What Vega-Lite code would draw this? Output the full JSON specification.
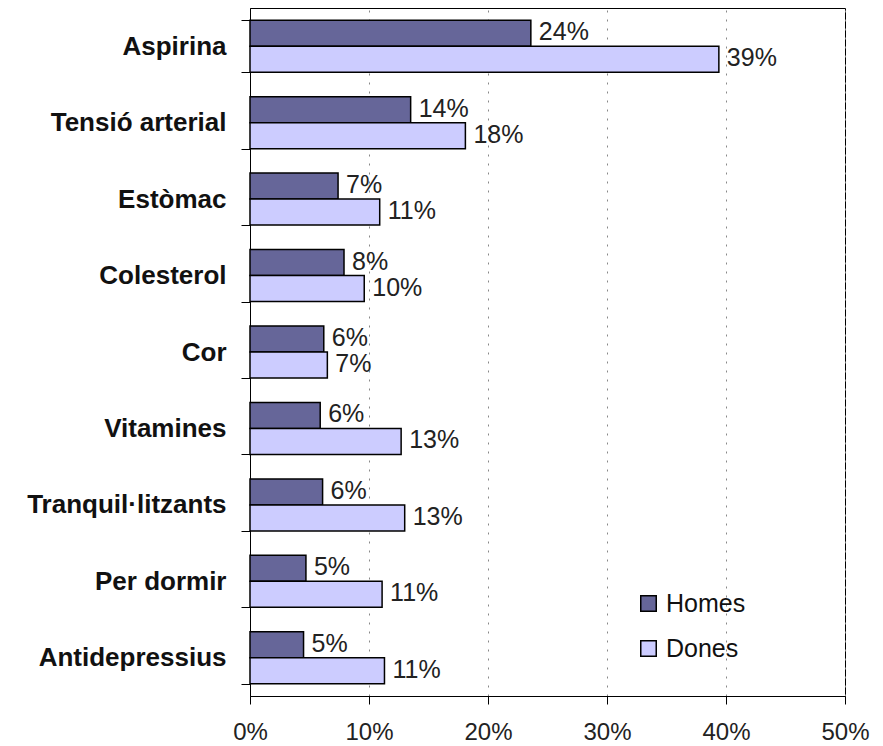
{
  "$schema": "https://vega.github.io/schema/vega-lite/v6.json",
  "autosize": {"type": "none"},
  "padding": {"left": 250, "top": 8, "right": 38, "bottom": 50},
  "width": 595,
  "height": 688,
  "background": "white",
  "config": {
    "view": {"stroke": "black", "strokeWidth": 1},
    "font": "Liberation Sans"
  },
  "data": {
    "values": [
      {"farmac": "Aspirina", "sexe": "Homes", "valor": 23.6, "etiqueta": "24%"},
      {"farmac": "Aspirina", "sexe": "Dones", "valor": 39.4, "etiqueta": "39%"},
      {"farmac": "Tensió arterial", "sexe": "Homes", "valor": 13.5, "etiqueta": "14%"},
      {"farmac": "Tensió arterial", "sexe": "Dones", "valor": 18.1, "etiqueta": "18%"},
      {"farmac": "Estòmac", "sexe": "Homes", "valor": 7.4, "etiqueta": "7%"},
      {"farmac": "Estòmac", "sexe": "Dones", "valor": 10.9, "etiqueta": "11%"},
      {"farmac": "Colesterol", "sexe": "Homes", "valor": 7.9, "etiqueta": "8%"},
      {"farmac": "Colesterol", "sexe": "Dones", "valor": 9.6, "etiqueta": "10%"},
      {"farmac": "Cor", "sexe": "Homes", "valor": 6.2, "etiqueta": "6%"},
      {"farmac": "Cor", "sexe": "Dones", "valor": 6.5, "etiqueta": "7%"},
      {"farmac": "Vitamines", "sexe": "Homes", "valor": 5.9, "etiqueta": "6%"},
      {"farmac": "Vitamines", "sexe": "Dones", "valor": 12.7, "etiqueta": "13%"},
      {"farmac": "Tranquil·litzants", "sexe": "Homes", "valor": 6.1, "etiqueta": "6%"},
      {"farmac": "Tranquil·litzants", "sexe": "Dones", "valor": 13.0, "etiqueta": "13%"},
      {"farmac": "Per dormir", "sexe": "Homes", "valor": 4.7, "etiqueta": "5%"},
      {"farmac": "Per dormir", "sexe": "Dones", "valor": 11.1, "etiqueta": "11%"},
      {"farmac": "Antidepressius", "sexe": "Homes", "valor": 4.5, "etiqueta": "5%"},
      {"farmac": "Antidepressius", "sexe": "Dones", "valor": 11.3, "etiqueta": "11%"}
    ]
  },
  "encoding": {
    "y": {
      "field": "farmac",
      "type": "nominal",
      "sort": null,
      "title": null,
      "scale": {"paddingInner": 0.32, "paddingOuter": 0.16},
      "axis": {
        "domainColor": "black",
        "tickColor": "black",
        "tickBand": "extent",
        "tickSize": 9,
        "labelPadding": 15,
        "labelFontSize": 26,
        "labelFontWeight": "bold",
        "labelColor": "#111",
        "labelFont": "Liberation Sans",
        "labelLimit": 400
      }
    },
    "yOffset": {
      "field": "sexe",
      "type": "nominal",
      "sort": ["Homes", "Dones"],
      "scale": {"domain": ["Homes", "Dones"], "paddingInner": 0, "paddingOuter": 0}
    },
    "x": {
      "field": "valor",
      "type": "quantitative",
      "title": null,
      "scale": {"domain": [0, 50], "nice": false},
      "axis": {
        "values": [0, 10, 20, 30, 40, 50],
        "labelExpr": "datum.value + '%'",
        "domainColor": "black",
        "tickColor": "black",
        "tickSize": 8,
        "labelPadding": 16,
        "labelFontSize": 24,
        "labelColor": "#222",
        "labelFont": "Liberation Sans",
        "labelFlush": false,
        "grid": true,
        "gridColor": "#888",
        "gridDash": [2, 7],
        "gridWidth": 1
      }
    }
  },
  "layer": [
    {
      "mark": {"type": "bar", "stroke": "black", "strokeWidth": 1.5},
      "encoding": {
        "color": {
          "field": "sexe",
          "type": "nominal",
          "scale": {"domain": ["Homes", "Dones"], "range": ["#666699", "#ccccff"]},
          "legend": {
            "title": null,
            "orient": "none",
            "legendX": 386,
            "legendY": 583,
            "symbolType": "square",
            "symbolSize": 240,
            "symbolStrokeColor": "black",
            "symbolStrokeWidth": 1.5,
            "symbolOpacity": 1,
            "labelFontSize": 25,
            "labelFont": "Liberation Sans",
            "labelColor": "#111",
            "labelOffset": 5,
            "rowPadding": 19
          }
        }
      }
    },
    {
      "mark": {
        "type": "text",
        "align": "left",
        "baseline": "middle",
        "dx": 8,
        "dy": -1,
        "fontSize": 25,
        "font": "Liberation Sans",
        "color": "#222"
      },
      "encoding": {
        "text": {"field": "etiqueta"}
      }
    }
  ]
}
